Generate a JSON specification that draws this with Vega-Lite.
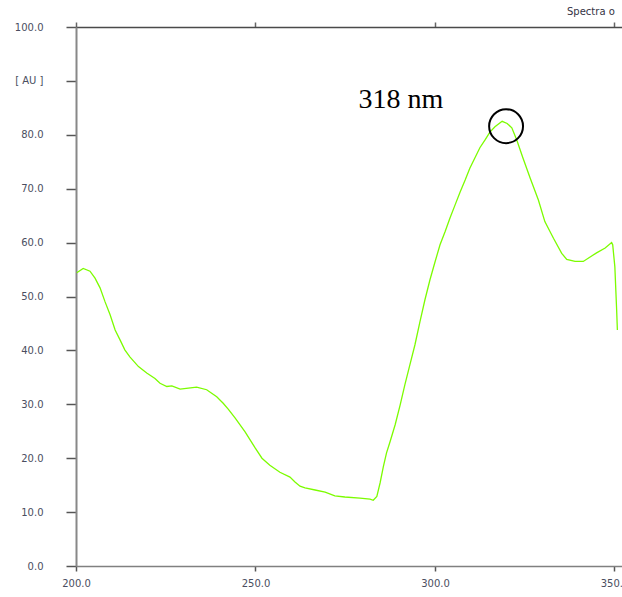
{
  "$schema": "https://vega.github.io/schema/vega-lite/v6.json",
  "width": 546,
  "height": 539,
  "autosize": "none",
  "padding": {"left": 76, "top": 27, "right": 0, "bottom": 31},
  "background": "white",
  "title": {
    "text": "Spectra o",
    "anchor": "start",
    "frame": "group",
    "dx": 491,
    "offset": 4,
    "font": "DejaVu Sans",
    "fontSize": 10,
    "fontWeight": "normal",
    "color": "#333344"
  },
  "config": {
    "view": {"stroke": null},
    "axis": {
      "grid": false,
      "labelFont": "DejaVu Sans",
      "labelFontSize": 10,
      "labelColor": "#4a4e60",
      "title": null,
      "domainColor": "#808080",
      "domainWidth": 1.5,
      "tickColor": "#555555",
      "tickWidth": 1.5
    }
  },
  "datasets": {
    "spectrum": [
      {"wl": 200.2, "au": 54.4}, {"wl": 202.0, "au": 55.2}, {"wl": 203.9, "au": 54.7},
      {"wl": 205.3, "au": 53.4}, {"wl": 206.7, "au": 51.6}, {"wl": 208.1, "au": 49.0},
      {"wl": 209.5, "au": 46.6}, {"wl": 210.9, "au": 43.8}, {"wl": 212.3, "au": 41.9},
      {"wl": 213.6, "au": 40.1}, {"wl": 215.0, "au": 38.8}, {"wl": 217.4, "au": 37.0},
      {"wl": 219.7, "au": 35.8}, {"wl": 222.0, "au": 34.8}, {"wl": 223.4, "au": 33.9},
      {"wl": 225.3, "au": 33.3}, {"wl": 226.7, "au": 33.4}, {"wl": 229.0, "au": 32.8},
      {"wl": 231.3, "au": 33.0}, {"wl": 233.6, "au": 33.2}, {"wl": 236.4, "au": 32.7},
      {"wl": 239.2, "au": 31.4}, {"wl": 241.0, "au": 30.2}, {"wl": 242.4, "au": 29.1},
      {"wl": 244.3, "au": 27.5}, {"wl": 247.1, "au": 24.9}, {"wl": 249.9, "au": 21.9},
      {"wl": 251.8, "au": 20.0}, {"wl": 254.0, "au": 18.7}, {"wl": 256.8, "au": 17.4},
      {"wl": 259.6, "au": 16.5}, {"wl": 261.0, "au": 15.6}, {"wl": 262.4, "au": 14.8},
      {"wl": 263.8, "au": 14.5}, {"wl": 266.6, "au": 14.1}, {"wl": 269.4, "au": 13.7},
      {"wl": 272.1, "au": 13.0}, {"wl": 274.9, "au": 12.8}, {"wl": 279.1, "au": 12.6},
      {"wl": 281.9, "au": 12.4}, {"wl": 282.8, "au": 12.2}, {"wl": 283.8, "au": 12.9},
      {"wl": 284.7, "au": 15.4}, {"wl": 285.6, "au": 18.4}, {"wl": 286.5, "au": 21.0},
      {"wl": 287.5, "au": 23.1}, {"wl": 288.9, "au": 26.2}, {"wl": 290.3, "au": 29.9},
      {"wl": 291.6, "au": 33.6}, {"wl": 293.0, "au": 37.3}, {"wl": 294.4, "au": 41.0},
      {"wl": 295.8, "au": 45.3}, {"wl": 297.2, "au": 49.4}, {"wl": 298.6, "au": 53.1},
      {"wl": 300.0, "au": 56.4}, {"wl": 301.4, "au": 59.6}, {"wl": 302.8, "au": 62.0},
      {"wl": 304.2, "au": 64.6}, {"wl": 305.6, "au": 67.0}, {"wl": 307.0, "au": 69.4},
      {"wl": 308.4, "au": 71.6}, {"wl": 309.7, "au": 73.8}, {"wl": 311.1, "au": 75.7},
      {"wl": 312.5, "au": 77.6}, {"wl": 313.9, "au": 79.0}, {"wl": 315.3, "au": 80.5},
      {"wl": 316.7, "au": 81.5}, {"wl": 318.7, "au": 82.5}, {"wl": 320.1, "au": 82.1},
      {"wl": 321.4, "au": 81.3}, {"wl": 322.8, "au": 79.0}, {"wl": 324.5, "au": 75.7},
      {"wl": 326.5, "au": 72.0}, {"wl": 328.8, "au": 67.9}, {"wl": 330.6, "au": 63.9},
      {"wl": 333.0, "au": 60.8}, {"wl": 335.3, "au": 58.0}, {"wl": 336.7, "au": 56.9},
      {"wl": 339.0, "au": 56.5}, {"wl": 341.3, "au": 56.5}, {"wl": 345.0, "au": 58.1},
      {"wl": 347.4, "au": 59.0}, {"wl": 349.2, "au": 60.0}, {"wl": 349.5, "au": 59.6},
      {"wl": 350.1, "au": 55.5}, {"wl": 350.6, "au": 47.5}, {"wl": 350.8, "au": 43.8}
    ],
    "note": [
      {"wl": 290.5, "au": 85.0, "label": "318 nm"}
    ],
    "peak": [
      {"wl": 319.8, "au": 81.6}
    ]
  },
  "layer": [
    {
      "data": {"name": "spectrum"},
      "mark": {"type": "line", "color": "#7CFC00", "strokeWidth": 1.3},
      "encoding": {
        "x": {
          "field": "wl", "type": "quantitative",
          "scale": {"domain": [200, 352.09], "nice": false, "zero": false},
          "axis": {
            "orient": "bottom",
            "values": [200, 250, 300, 350],
            "format": ".1f",
            "tickSize": 5,
            "labelPadding": 7,
            "labelFlush": false,
            "labelOverlap": false
          }
        },
        "y": {
          "field": "au", "type": "quantitative",
          "scale": {"domain": [0, 100], "nice": false},
          "axis": {
            "orient": "left",
            "values": [0, 10, 20, 30, 40, 50, 60, 70, 80, 90, 100],
            "labelExpr": "datum.value == 90 ? '[ AU ]' : format(datum.value, '.1f')",
            "tickSize": 10,
            "labelPadding": 23,
            "domainWidth": 2,
            "domainColor": "#888888",
            "labelFlush": false,
            "labelOverlap": false
          }
        }
      }
    },
    {
      "data": {"name": "peak"},
      "mark": {"type": "point", "shape": "circle", "filled": false, "stroke": "black", "strokeWidth": 2, "size": 1150, "opacity": 1},
      "encoding": {
        "x": {
          "field": "wl", "type": "quantitative",
          "axis": {
            "orient": "top",
            "values": [200, 250, 300, 350],
            "labels": false,
            "tickSize": 5,
            "domainColor": "#4a4a4a",
            "domainWidth": 1.5,
            "tickColor": "#666666"
          }
        },
        "y": {"field": "au", "type": "quantitative", "axis": null}
      }
    },
    {
      "data": {"name": "note"},
      "mark": {"type": "text", "font": "Liberation Serif", "fontSize": 28, "color": "black", "align": "center", "baseline": "alphabetic"},
      "encoding": {
        "x": {"field": "wl", "type": "quantitative", "axis": null},
        "y": {"field": "au", "type": "quantitative", "axis": null},
        "text": {"field": "label"}
      }
    }
  ],
  "resolve": {"axis": {"x": "independent", "y": "independent"}}
}
